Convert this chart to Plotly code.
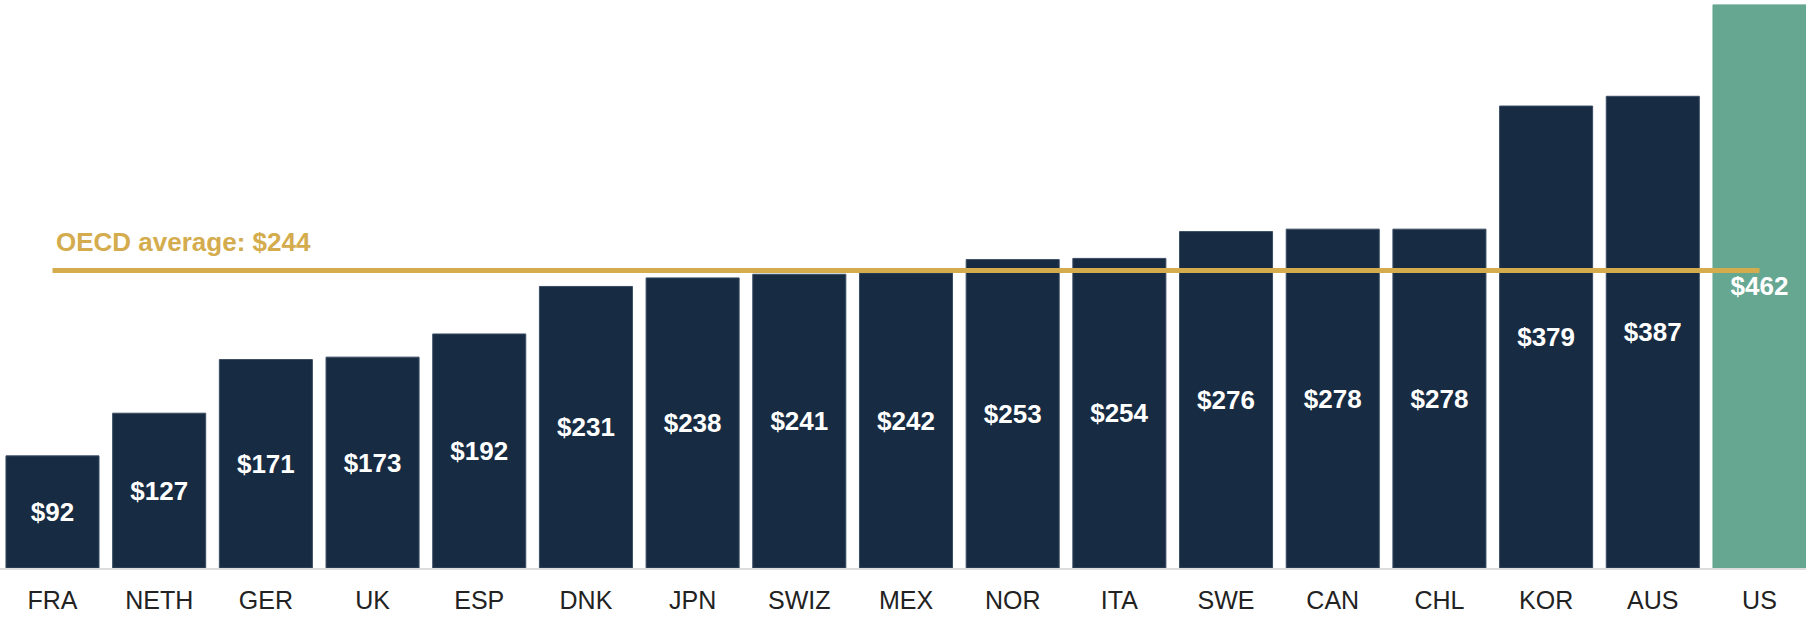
import plotly.graph_objects as go

countries = ['FRA', 'NETH', 'GER', 'UK', 'ESP', 'DNK', 'JPN', 'SWIZ', 'MEX', 'NOR',
             'ITA', 'SWE', 'CAN', 'CHL', 'KOR', 'AUS', 'US']
spending = [92, 127, 171, 173, 192, 231, 238, 241, 242, 253, 254, 276, 278, 278, 379, 387, 462]
oecd_average = 244

navy = '#172B42'
teal = '#66A792'
gold = '#D4AC4E'

bar_colors = [teal if c == 'US' else navy for c in countries]
edge_colors = ['#66A792' if c == 'US' else '#3A4C63' for c in countries]
labels = ['$' + str(v) for v in spending]

fig = go.Figure()
fig.add_trace(go.Bar(
    x=list(range(len(countries))), y=spending,
    marker=dict(color=bar_colors, line=dict(width=1, color=edge_colors)),
    text=labels, textposition='inside', insidetextanchor='middle',
    textfont=dict(family='Liberation Sans, Arial', size=26, color='white', weight='bold'),
    textangle=0, cliponaxis=False, hoverinfo='skip',
))

# OECD average line from first to last bar centre
fig.add_trace(go.Scatter(
    x=[0, len(countries) - 1], y=[oecd_average, oecd_average],
    mode='lines', line=dict(color=gold, width=5), hoverinfo='skip',
))

fig.add_annotation(
    x=0, y=oecd_average, xref='x', yref='y', yshift=29, xshift=2,
    text='<b>OECD average: $' + str(oecd_average) + '</b>',
    showarrow=False, xanchor='left', yanchor='middle',
    font=dict(family='Liberation Sans, Arial', size=26, color=gold),
)

fig.update_layout(
    width=1806, height=620,
    margin=dict(l=0, r=0, t=0, b=52),
    plot_bgcolor='white', paper_bgcolor='white',
    showlegend=False, bargap=0.128,
    xaxis=dict(range=[-0.492, 16.436], tickmode='array',
               tickvals=list(range(len(countries))), ticktext=countries,
               showgrid=False, zeroline=False, showline=True, linecolor='#DDDDDD', linewidth=2,
               ticks='', ticklabelstandoff=9,
               tickfont=dict(family='Liberation Sans, Arial', size=25, color='#222222')),
    yaxis=dict(range=[0, 466], visible=False, showgrid=False, zeroline=False),
)

# drop the default page margin so the chart fills the window
fig.write_html("out.html", config={'displayModeBar': False},
               post_script="document.body.style.margin='0';")
